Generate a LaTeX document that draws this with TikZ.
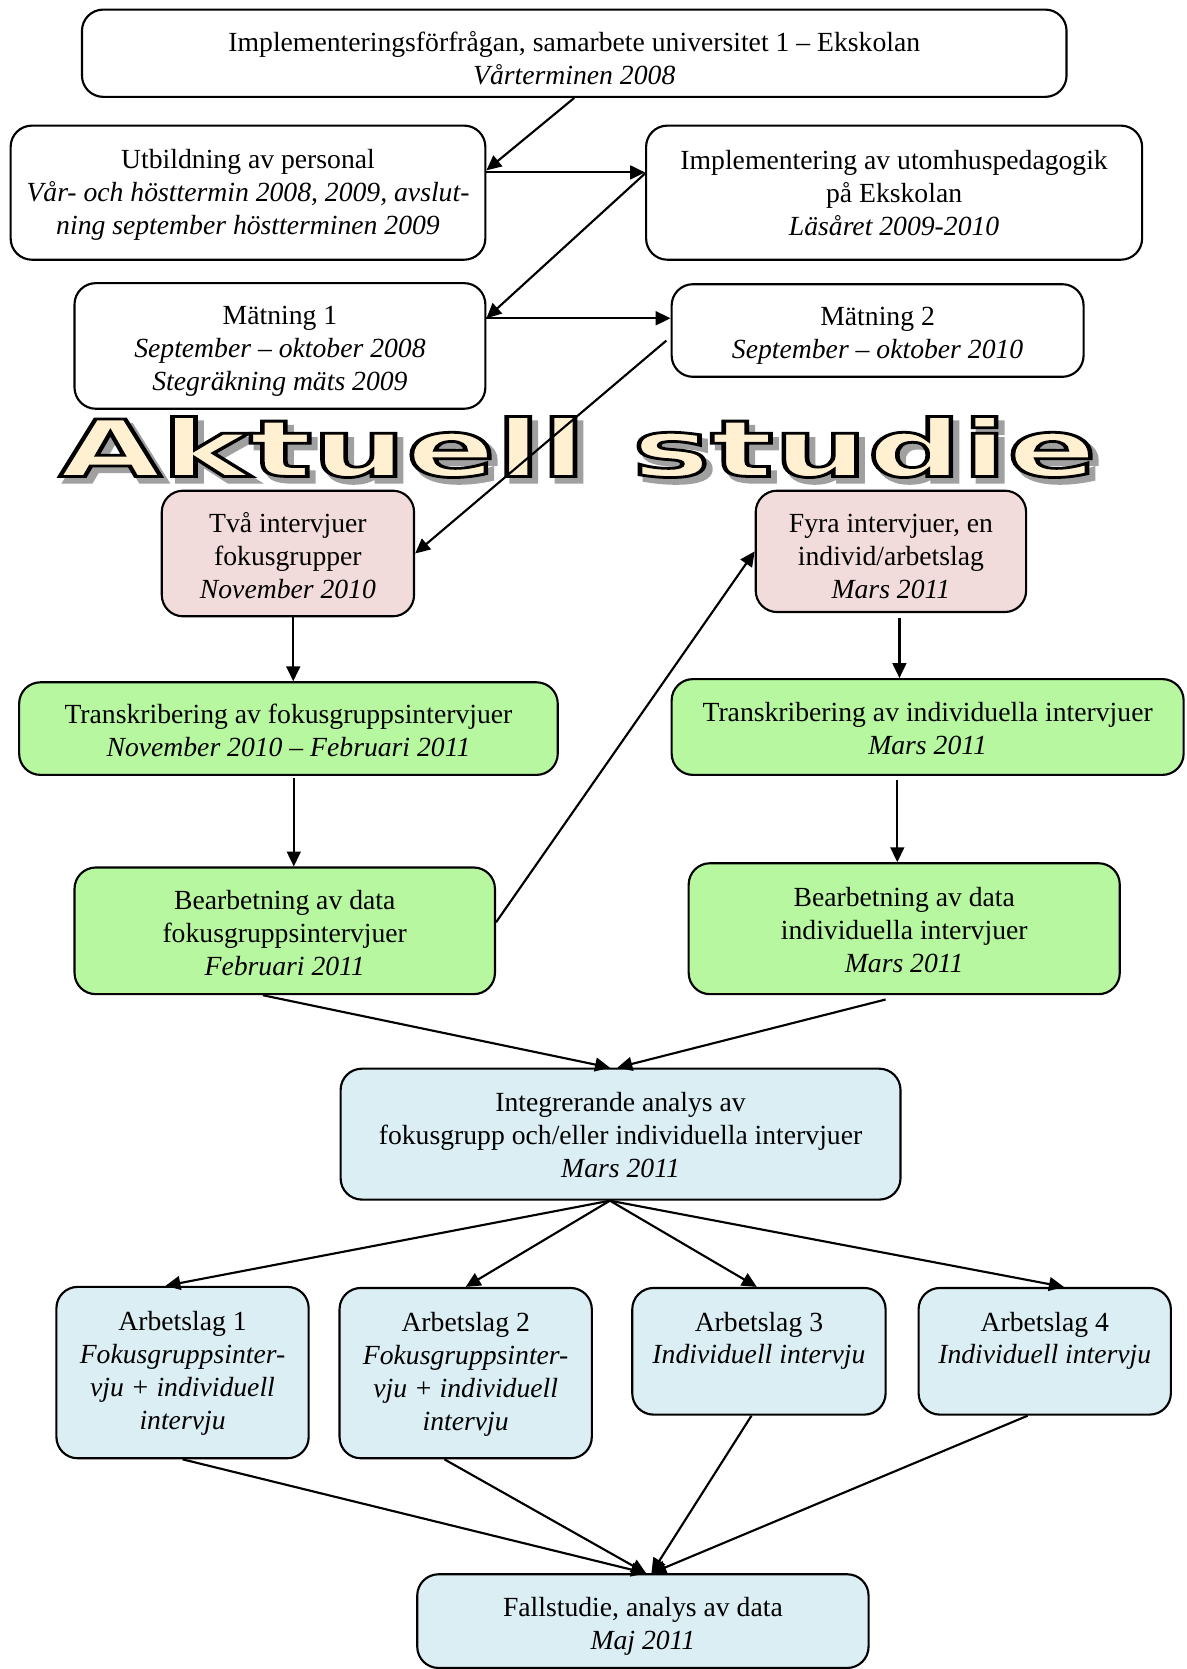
\documentclass[tikz,border=0pt]{standalone}
\usepackage{fontspec}
\setmainfont{Liberation Serif}
\newfontfamily\artfont{DejaVu Sans}
\usetikzlibrary{arrows.meta}
\definecolor{pinkbox}{HTML}{F2DCDB}
\definecolor{greenbox}{HTML}{B7F7A0}
\definecolor{bluebox}{HTML}{DAEEF3}
\definecolor{cream}{HTML}{FFF0D2}
\definecolor{shadowgray}{HTML}{A0A0A0}
\newcommand{\outlinetext}[1]{\special{pdf:literal direct 0 0 0 RG 2 Tr 1.3 w}#1\special{pdf:literal direct 0 Tr}}
\newcommand{\shadowtext}[1]{\special{pdf:literal direct 2 Tr 1.6 w}#1\special{pdf:literal direct 0 Tr}}
\begin{document}
\begin{tikzpicture}[x=0.5pt,y=-0.5pt,
  box/.style={draw=black, line width=1pt, rounded corners=10pt, inner sep=0pt},
  pinkb/.style={box, fill=pinkbox},
  greenb/.style={box, fill=greenbox},
  blueb/.style={box, fill=bluebox},
  txt/.style={align=center, inner sep=0pt, font=\fontsize{13}{15.5}\selectfont},
  conn/.style={line width=1pt, -{Triangle[length=7pt,width=6.5pt]}},
  art/.style={font=\artfont\bfseries\fontsize{37}{37}\selectfont, xscale=1.675, inner sep=0pt},
]
\useasboundingbox (0,0) rectangle (1115,1568);
\fill[white] (0,0) rectangle (1115,1568);

% ---------- word art ----------
\begin{scope}[shift={(543,420)}]
  \node[xshift=2.6pt, yshift=-2.6pt, art, text=shadowgray] (ws) at (0,0) {\shadowtext{Aktuell studie}};
  \node[art, text=cream] (wa) at (0,0) {\outlinetext{Aktuell studie}};
\end{scope}

% ---------- boxes ----------
\node[box, minimum width=462.5pt, minimum height=41pt] (top) at (539.5,50) {};
\node[txt, yshift=-2.5pt] (topT) at (top.center)
  {Implementeringsförfrågan, samarbete universitet 1 – Ekskolan\\ \textit{Vårterminen 2008}};
\node[box, minimum width=223pt, minimum height=63pt] (utb) at (233,181) {};
\node[txt, yshift=-1pt] (utbT) at (utb.center)
  {Utbildning av personal\\ \textit{Vår- och hösttermin 2008, 2009, avslut-}\\ \textit{ning september höstterminen 2009}};
\node[box, minimum width=233pt, minimum height=63pt] (impl) at (840,181) {};
\node[txt] (implT) at (impl.center)
  {Implementering av utomhuspedagogik\\ på Ekskolan\\ \textit{Läsåret 2009-2010}};
\node[box, minimum width=193pt, minimum height=59pt] (mat1) at (263,325) {};
\node[txt, yshift=-2.5pt] (mat1T) at (mat1.center)
  {Mätning 1\\ \textit{September – oktober 2008}\\ \textit{Stegräkning mäts 2009}};
\node[box, minimum width=193.5pt, minimum height=43.5pt] (mat2) at (824.5,310.5) {};
\node[txt, yshift=-2.25pt] (mat2T) at (mat2.center)
  {Mätning 2\\ \textit{September – oktober 2010}};

\node[pinkb, minimum width=118.5pt, minimum height=59pt] (tva) at (270.5,520) {};
\node[txt, yshift=-1pt] (tvaT) at (tva.center)
  {Två intervjuer\\ fokusgrupper\\ \textit{November 2010}};
\node[pinkb, minimum width=127pt, minimum height=57pt] (fyra) at (837,518) {};
\node[txt, yshift=-2.5pt] (fyraT) at (fyra.center)
  {Fyra intervjuer, en\\ individ/arbetslag\\ \textit{Mars 2011}};

\node[greenb, minimum width=253pt, minimum height=43.5pt] (trf) at (271,684.5) {};
\node[txt, yshift=-0.75pt] (trfT) at (trf.center)
  {Transkribering av fokusgruppsintervjuer\\ \textit{November 2010 – Februari 2011}};
\node[greenb, minimum width=240.5pt, minimum height=45pt] (tri) at (871.5,683) {};
\node[txt, yshift=-0.75pt] (triT) at (tri.center)
  {Transkribering av individuella intervjuer\\ \textit{Mars 2011}};
\node[greenb, minimum width=197.5pt, minimum height=59.5pt] (bef) at (267.5,874.5) {};
\node[txt, yshift=-1.25pt] (befT) at (bef.center)
  {Bearbetning av data\\ fokusgruppsintervjuer\\ \textit{Februari 2011}};
\node[greenb, minimum width=202.5pt, minimum height=61.5pt] (bei) at (849.5,872.5) {};
\node[txt, yshift=-0.75pt] (beiT) at (bei.center)
  {Bearbetning av data\\ individuella intervjuer\\ \textit{Mars 2011}};

\node[blueb, minimum width=263pt, minimum height=61.5pt] (int) at (583,1065.5) {};
\node[txt, yshift=-0.5pt] (intT) at (int.center)
  {Integrerande analys av\\ fokusgrupp och/eller individuella intervjuer\\ \textit{Mars 2011}};

\node[blueb, minimum width=118.5pt, minimum height=80.5pt] (a1) at (171.5,1289.5) {};
\node[txt, yshift=-0.25pt] (a1T) at (a1.center)
  {Arbetslag 1\\ \textit{Fokusgruppsinter-}\\ \textit{vju + individuell}\\ \textit{intervju}};
\node[blueb, minimum width=118.5pt, minimum height=80pt] (a2) at (437.5,1290) {};
\node[txt, yshift=-0.5pt] (a2T) at (a2.center)
  {Arbetslag 2\\ \textit{Fokusgruppsinter-}\\ \textit{vju + individuell}\\ \textit{intervju}};
\node[blueb, minimum width=119pt, minimum height=59.5pt] (a3) at (713,1269.5) {};
\node[txt, anchor=north] (a3T) at ([yshift=-11.5pt]a3.north)
  {Arbetslag 3\\ \textit{Individuell intervju}};
\node[blueb, minimum width=118.5pt, minimum height=59.5pt] (a4) at (981.5,1269.5) {};
\node[txt, anchor=north] (a4T) at ([yshift=-11.5pt]a4.north)
  {Arbetslag 4\\ \textit{Individuell intervju}};

\node[blueb, minimum width=212pt, minimum height=44pt] (fall) at (604,1523) {};
\node[txt, yshift=-2.25pt] (fallT) at (fall.center)
  {Fallstudie, analys av data\\ \textit{Maj 2011}};

% ---------- connectors ----------
\draw[conn] (top.south) -- ([yshift=10.5pt]utb.east);
\draw[conn] ([yshift=9.5pt]utb.east) -- ([yshift=9.5pt]impl.west);
\draw[conn] ([yshift=9pt]impl.west) -- ([yshift=13pt]mat1.east);
\coordinate (m1e) at ([yshift=13pt]mat1.east);
\draw[conn] (m1e) -- (m1e -| mat2.west);
\coordinate (m2s) at ([xshift=-2pt,yshift=-4.75pt]mat2.west);
\draw[conn] (m2s) -- (tva.east);

\coordinate (p1) at ([xshift=2.5pt]tva.south);
\draw[conn] (p1) -- (p1 |- trf.north);
\coordinate (p2) at ([xshift=2.5pt,yshift=-1pt]trf.south);
\draw[conn] (p2) -- (p2 |- bef.north);
\draw[conn] ([yshift=4pt]bef.east) -- (fyra.west);
\coordinate (p3) at ([xshift=4pt,yshift=-2.5pt]fyra.south);
\draw[conn] (p3) -- (p3 |- tri.north);
\coordinate (p4) at ([xshift=-14.25pt,yshift=-2pt]tri.south);
\draw[conn] (p4) -- (p4 |- bei.north);

\draw[conn] ([xshift=-10.25pt]bef.south) -- ([xshift=-5pt]int.north);
\draw[conn] ([xshift=-8.75pt,yshift=-2pt]bei.south) -- ([xshift=-1.5pt]int.north);

\coordinate (isrc) at ([xshift=-5pt]int.south);
\draw[conn] (isrc) -- ([xshift=-8pt]a1.north);
\draw[conn] (isrc) -- (a2.north);
\draw[conn] (isrc) -- ([xshift=-1pt]a3.north);
\draw[conn] (isrc) -- ([xshift=9pt]a4.north);

\draw[conn] (a1.south) -- ([xshift=1.5pt]fall.north);
\draw[conn] ([xshift=-10pt]a2.south) -- ([xshift=1.5pt]fall.north);
\draw[conn] ([xshift=-3.5pt]a3.south) -- ([xshift=4pt]fall.north);
\draw[conn] ([xshift=-8pt]a4.south) -- ([xshift=4pt]fall.north);
\end{tikzpicture}
\end{document}
